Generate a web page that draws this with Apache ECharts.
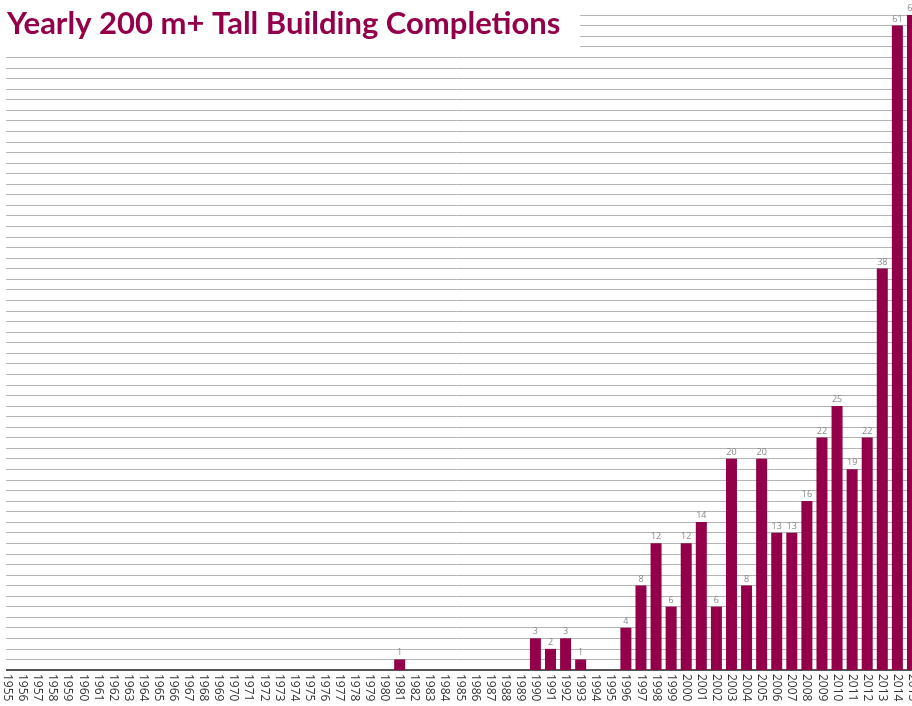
<!DOCTYPE html>
<html>
<head>
<meta charset="utf-8">
<script src="https://cdn.jsdelivr.net/npm/echarts@6/dist/echarts.min.js"></script>
<style>
html,body{margin:0;padding:0;background:#fff;}
#chart{width:912px;height:706px;}
</style>
</head>
<body>
<div id="chart"></div>
<script>
const years = [];
for (let y = 1955; y <= 2015; y++) years.push(String(y));

const completions = [
  0,0,0,0,0,0,0,0,0,0,   // 1955-1964
  0,0,0,0,0,0,0,0,0,0,   // 1965-1974
  0,0,0,0,0,0,1,0,0,0,   // 1975-1984
  0,0,0,0,0,3,2,3,1,0,   // 1985-1994
  0,4,8,12,6,12,14,6,20,8, // 1995-2004
  20,13,13,16,22,25,19,22,38,61, // 2005-2014
  62                      // 2015
];

const titleText = 'Yearly 200 m+ Tall Building Completions';
const maroon = '#930049';

const chart = echarts.init(document.getElementById('chart'), null, {renderer: 'canvas'});
chart.setOption({
  animation: false,
  backgroundColor: '#ffffff',
  title: {
    text: titleText,
    left: 2,
    top: 3,
    z: 100,
    textStyle: {
      color: maroon,
      fontFamily: 'Lato',
      fontWeight: 'bold',
      fontSize: 31
    }
  },
  graphic: [
    { type: 'rect', z: 50, shape: {x: 0, y: 0, width: 580, height: 52}, style: {fill: '#ffffff'} },
    { type: 'rect', z: 50, shape: {x: 0, y: 0, width: 6, height: 674}, style: {fill: '#ffffff'} }
  ],
  grid: { left: 0, width: 920, top: 15, bottom: 36, containLabel: false, outerBoundsMode: 'none' },
  xAxis: {
    type: 'category',
    data: years,
    boundaryGap: true,
    axisLine: { show: true, lineStyle: { color: '#555555', width: 2 } },
    axisTick: { show: false },
    splitLine: { show: false },
    axisLabel: {
      interval: 0,
      rotate: -90,
      margin: 4,
      fontSize: 12,
      fontFamily: 'Open Sans',
      color: '#333333',
      hideOverlap: false
    }
  },
  yAxis: {
    type: 'value',
    min: 0,
    max: 62,
    interval: 1,
    axisLine: { show: false },
    axisTick: { show: false },
    axisLabel: { show: false },
    splitLine: { show: true, lineStyle: { color: '#b4b4b4', width: 1 } }
  },
  series: [{
    type: 'bar',
    data: completions,
    barWidth: 11,
    itemStyle: { color: maroon },
    label: {
      show: true,
      position: 'top',
      distance: 2,
      fontSize: 9,
      fontFamily: 'Open Sans',
      color: '#888888',
      formatter: p => (p.value ? String(p.value) : '')
    }
  }]
});
</script>
</body>
</html>
